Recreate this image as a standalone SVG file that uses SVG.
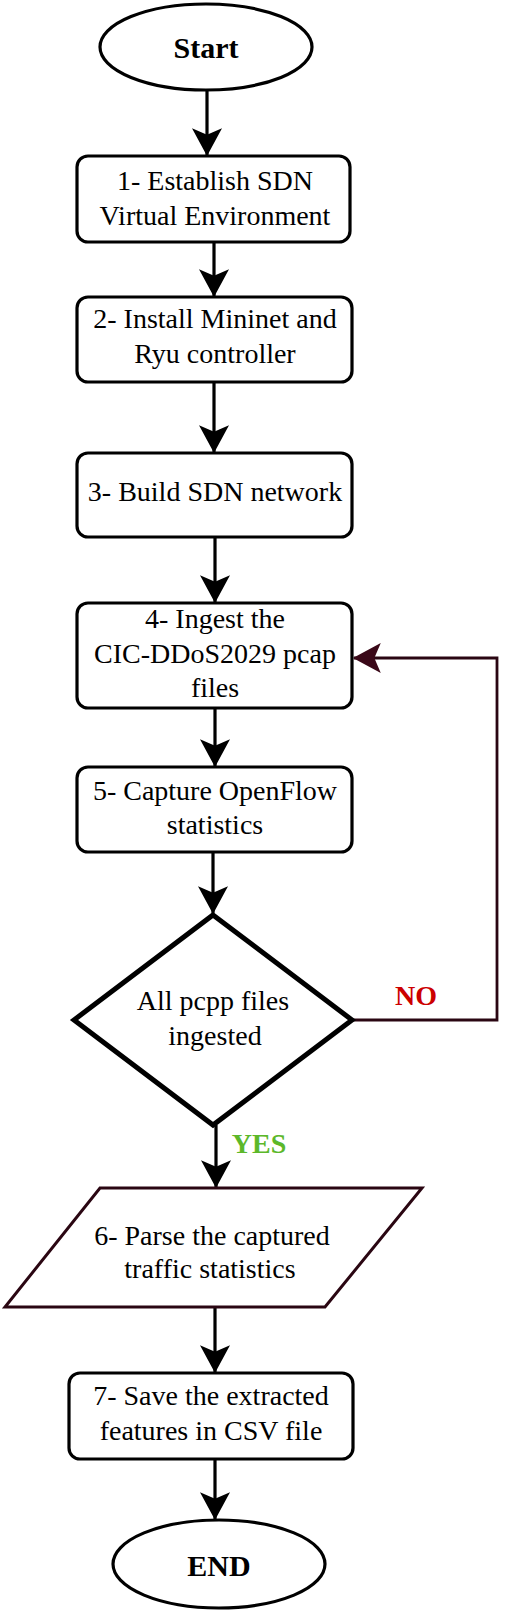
<svg xmlns="http://www.w3.org/2000/svg" width="505" height="1612" viewBox="0 0 505 1612">
<style>
.bx{fill:#fff;stroke:#000;stroke-width:3.2}
.t{font-family:'Liberation Serif','Times New Roman',Tinos,'DejaVu Serif',serif;font-size:28px;fill:#000;text-anchor:middle}
.b{font-weight:bold}
.c{fill:none;stroke:#000;stroke-width:3.2}
.loop{fill:none;stroke:#2a0612;stroke-width:2.8}
</style>
<defs>
<marker id="ah" markerUnits="userSpaceOnUse" markerWidth="30" markerHeight="30" viewBox="0 0 26 28" refX="25" refY="14" orient="auto">
<path d="M0,0 L26,14 L0,28 L6,14 Z" fill="#000"/>
</marker>
<marker id="ahm" markerUnits="userSpaceOnUse" markerWidth="30" markerHeight="30" viewBox="0 0 26 28" refX="25" refY="14" orient="auto">
<path d="M0,0 L26,14 L0,28 L6,14 Z" fill="#3a0818"/>
</marker>
</defs>
<rect width="505" height="1612" fill="#fff"/>
<g id="connectors">
<path class="c" d="M207,91 V155" marker-end="url(#ah)"/>
<path class="c" d="M214,242 V296" marker-end="url(#ah)"/>
<path class="c" d="M214,382 V452" marker-end="url(#ah)"/>
<path class="c" d="M215,537 V602" marker-end="url(#ah)"/>
<path class="c" d="M215,708 V766" marker-end="url(#ah)"/>
<path class="c" d="M213,852 V913" marker-end="url(#ah)"/>
<path class="c" d="M216,1125 V1187" marker-end="url(#ah)"/>
<path class="c" d="M215,1307 V1372" marker-end="url(#ah)"/>
<path class="c" d="M215,1459 V1519" marker-end="url(#ah)"/>
<path class="loop" d="M352,1020 H497 V658 H354" marker-end="url(#ahm)"/>
<text class="t b" x="416" y="1005" font-family="Liberation Serif, serif" style="fill:#cc0000">NO</text>
<text class="t b" x="259" y="1153" font-family="Liberation Serif, serif" style="fill:#5cb82a">YES</text>
</g>
<g id="start">
<ellipse class="bx" cx="206" cy="47" rx="106" ry="43"/>
<text class="t b" x="206" y="58" style="font-size:30px">Start</text>
</g>
<g id="step1">
<rect class="bx" x="77" y="156" width="273" height="86" rx="11"/>
<text class="t" x="215" y="190">1- Establish SDN</text>
<text class="t" x="215" y="225">Virtual Environment</text>
</g>
<g id="step2">
<rect class="bx" x="77" y="297" width="275" height="85" rx="11"/>
<text class="t" x="215" y="328">2- Install Mininet and</text>
<text class="t" x="215" y="363">Ryu controller</text>
</g>
<g id="step3">
<rect class="bx" x="77" y="453" width="275" height="84" rx="11"/>
<text class="t" x="215" y="501">3- Build SDN network</text>
</g>
<g id="step4">
<rect class="bx" x="77" y="603" width="275" height="105" rx="11"/>
<text class="t" x="215" y="628">4- Ingest the</text>
<text class="t" x="215" y="663">CIC-DDoS2029 pcap</text>
<text class="t" x="215" y="697">files</text>
</g>
<g id="step5">
<rect class="bx" x="77" y="767" width="275" height="85" rx="11"/>
<text class="t" x="215" y="800">5- Capture OpenFlow</text>
<text class="t" x="215" y="834">statistics</text>
</g>
<g id="decision">
<polygon points="213,915 352,1020 213,1125 74,1020" fill="#fff" stroke="#000" stroke-width="5"/>
<text class="t" x="213" y="1010">All pcpp files</text>
<text class="t" x="215" y="1045">ingested</text>
</g>
<g id="step6">
<polygon points="100,1188 422,1188 325,1307 5,1307" fill="#fff" stroke="#2a0612" stroke-width="3"/>
<text class="t" x="212" y="1245">6- Parse the captured</text>
<text class="t" x="210" y="1278">traffic statistics</text>
</g>
<g id="step7">
<rect class="bx" x="69" y="1373" width="284" height="86" rx="11"/>
<text class="t" x="211" y="1405">7- Save the extracted</text>
<text class="t" x="211" y="1440">features in CSV file</text>
</g>
<g id="end">
<ellipse class="bx" cx="219" cy="1564" rx="106" ry="44"/>
<text class="t b" x="219" y="1576" style="font-size:30px">END</text>
</g>
</svg>
